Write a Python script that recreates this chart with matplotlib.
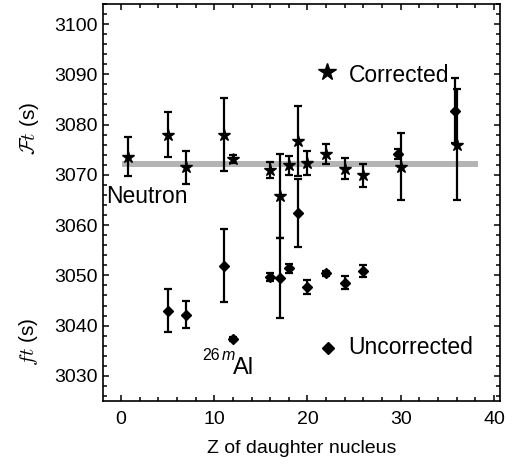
import matplotlib
matplotlib.use("Agg")
import matplotlib.pyplot as plt
from matplotlib.ticker import MultipleLocator

plt.rcParams['font.family'] = ['Liberation Sans', 'DejaVu Sans']
plt.rcParams['mathtext.fontset'] = 'cm'

# Corrected (script-F t) values
z_corr = [0.8, 5, 7, 11, 12, 16, 17, 18, 19, 20, 22, 24, 26, 30, 36]
Ft_corr = [3073.6, 3078.0, 3071.5, 3078.0, 3073.1, 3071.0, 3065.8, 3071.9,
           3076.7, 3072.4, 3074.1, 3071.2, 3069.9, 3071.6, 3076.0]
Ft_err = [3.9, 4.5, 3.3, 7.3, 0.8, 1.6, 8.3, 1.9, 7.0, 2.4, 2.0, 2.1, 2.3, 6.7, 11.0]

# Uncorrected ft values
z_unc = [5, 7, 11, 12, 16, 17, 18, 19, 20, 22, 24, 26, 29.7, 35.8]
ft_unc = [3043.0, 3042.2, 3051.9, 3037.3, 3049.6, 3049.5, 3051.4, 3062.4,
          3047.6, 3050.4, 3048.5, 3050.9, 3074.2, 3082.8]
ft_err = [4.3, 2.7, 7.3, 0.4, 0.8, 8.0, 0.9, 6.8, 1.4, 0.5, 1.3, 1.2, 1.0, 6.4]

# Neutron band
band_z = [0.1, 38.3]
band_lo = 3071.5
band_hi = 3072.8

xticks = [0, 10, 20, 30, 40]
yticks = [3030, 3040, 3050, 3060, 3070, 3080, 3090, 3100]

fig = plt.figure(figsize=(5.13, 4.66), dpi=100)
ax = fig.add_axes([0.2014, 0.1395, 0.7733, 0.852])

ax.fill_between(band_z, band_lo, band_hi, color='#b4b4b4', lw=0, zorder=1)

ax.errorbar(z_corr, Ft_corr, yerr=Ft_err, fmt='*', color='black', ms=9,
            elinewidth=1.6, capsize=2.6, capthick=1.6, zorder=3)
ax.errorbar(z_unc, ft_unc, yerr=ft_err, fmt='D', color='black', ms=5.2,
            elinewidth=1.6, capsize=2.6, capthick=1.6, zorder=3)

# in-plot legend-like labels
ax.plot([22.1], [3090.5], marker='*', color='black', ms=13, ls='none')
ax.text(24.4, 3088.5, 'Corrected', fontsize=16.5, va='baseline', ha='left')
ax.plot([22.2], [3035.6], marker='D', color='black', ms=6.2, ls='none')
ax.text(24.4, 3034.4, 'Uncorrected', fontsize=16.5, va='baseline', ha='left')
ax.text(-1.55, 3064.4, 'Neutron', fontsize=16.5, va='baseline', ha='left')
ax.text(8.68, 3033.1, '26', fontsize=11.5, va='baseline', ha='left')
ax.text(10.83, 3033.1, 'm', fontsize=11.5, style='italic', va='baseline', ha='left')
ax.text(12.0, 3030.4, 'Al', fontsize=17, va='baseline', ha='left')

ax.set_xlim(-1.9, 40.65)
ax.set_ylim(3025, 3104)
ax.set_xticks(xticks)
ax.set_yticks(yticks)
ax.xaxis.set_minor_locator(MultipleLocator(2))
ax.yaxis.set_minor_locator(MultipleLocator(2))
ax.tick_params(which='both', direction='in', top=True, right=True,
               labelsize=14, width=1.1)
ax.tick_params(which='major', length=4.5)
ax.tick_params(which='minor', length=2.8)
ax.tick_params(axis='x', pad=7)
ax.tick_params(axis='y', pad=4)
for s in ax.spines.values():
    s.set_linewidth(1.2)

ax.set_xlabel('Z of daughter nucleus', fontsize=14, labelpad=9)

fig.text(0.057, 0.725, r'$\mathcal{F}\mathit{t}$ (s)', rotation=90,
         fontsize=15, ha='center', va='center')
fig.text(0.055, 0.267, r'$\mathit{ft}$ (s)', rotation=90,
         fontsize=15, ha='center', va='center')

fig.savefig('out.png', dpi=100)
